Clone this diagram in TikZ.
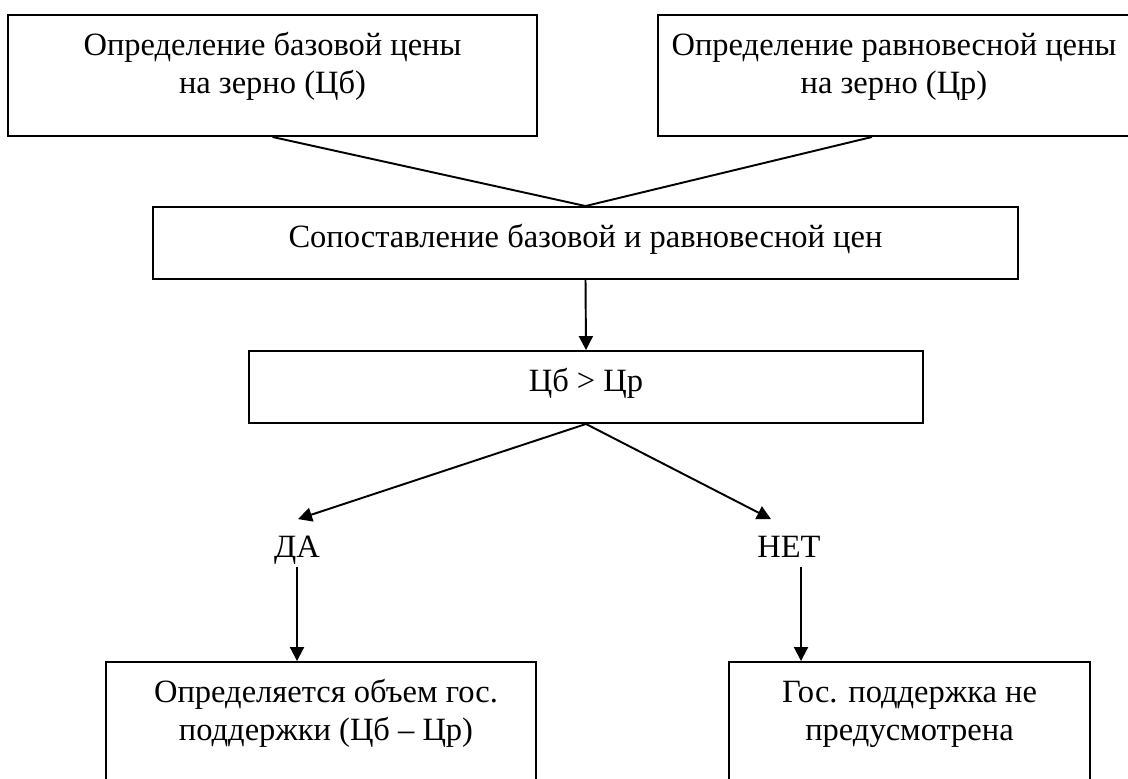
\documentclass[tikz,border=0pt]{standalone}
\usepackage{fontspec}
\setmainfont{Liberation Serif}
\usetikzlibrary{arrows.meta,positioning}
\begin{document}
\begin{tikzpicture}[x=0.02cm,y=-0.02cm]
	% Styles
	\tikzstyle{fleche}=[-{Triangle[length=0.28cm,width=0.28cm]},line width=1.1pt]
	\tikzstyle{trait}=[-,line width=1.1pt]
	\tikzstyle{bloc}=[draw,line width=1.1pt,inner sep=0pt]
	\tikzstyle{texte}=[inner sep=0pt,align=center,font=\fontsize{18.5pt}{21.6pt}\selectfont]
	% Dimensions
	\def\HautHaut{121*0.02cm}
	\def\HautMilieu{72*0.02cm}
	\def\HautBas{118*0.02cm}
	\def\Marge{-0.29cm}
	\useasboundingbox (0,0) rectangle (1128,778);
	% Blocs
	\node[bloc, minimum width=529*0.02cm, minimum height=\HautHaut] (Base) at (272.5,75.5) {};
	\node[bloc, minimum width=472*0.02cm, minimum height=\HautHaut] (Equil) at (894,75.5) {};
	\node[bloc, minimum width=865*0.02cm, minimum height=\HautMilieu] (Compar) at (585.5,243) {};
	\node[bloc, minimum width=674*0.02cm, minimum height=\HautMilieu] (Test) at (586,387) {};
	\node[bloc, minimum width=430*0.02cm, minimum height=\HautBas] (Soutien) at (321,721) {};
	\node[bloc, minimum width=361*0.02cm, minimum height=\HautBas] (SansSoutien) at (909.5,721) {};
	% Textes
	\node[texte, anchor=north] (TBase) at ([yshift=\Marge]Base.north) {\strut Определение базовой цены\\на зерно (Цб)};
	\node[texte, anchor=north] (TEquil) at ([yshift=\Marge]Equil.north) {\strut Определение равновесной цены\\на зерно (Цр)};
	\node[texte, anchor=north] (TCompar) at ([yshift=\Marge]Compar.north) {\strut Сопоставление базовой и равновесной цен};
	\node[texte, anchor=north] (TTest) at ([yshift=\Marge]Test.north) {\strut Цб > Цр};
	\node[texte, anchor=north] (TSoutien) at ([xshift=0.1cm,yshift=\Marge]Soutien.north) {\strut Определяется объем гос.\\поддержки (Цб – Цр)};
	\node[texte, anchor=north] (TSansSoutien) at ([yshift=\Marge]SansSoutien.north) {\strut Гос. поддержка не\\предусмотрена};
	\node[texte, anchor=base] (Oui) at (297,557) {\strut ДА};
	\node[texte, anchor=base] (Non) at (789,557) {\strut НЕТ};
	\coordinate (OuiPied) at ([yshift=-0.2cm]Oui.base);
	\coordinate (NonPied) at ([xshift=0.24cm,yshift=-0.2cm]Non.base);
	% Arcs
	\draw[trait] (Base.south) -- (Compar.north);
	\draw[trait] ([xshift=-0.44cm]Equil.south) -- (Compar.north);
	\draw[fleche] (Compar.south) -- (Test.north);
	\draw[fleche] (Test.south) -- ([xshift=0.02cm,yshift=0.22cm]Oui.north);
	\draw[fleche] (Test.south) -- ([xshift=-0.36cm,yshift=0.22cm]Non.north);
	\draw[fleche] (OuiPied) -- (OuiPied |- Soutien.north);
	\draw[fleche] (NonPied) -- (NonPied |- SansSoutien.north);
\end{tikzpicture}
\end{document}
